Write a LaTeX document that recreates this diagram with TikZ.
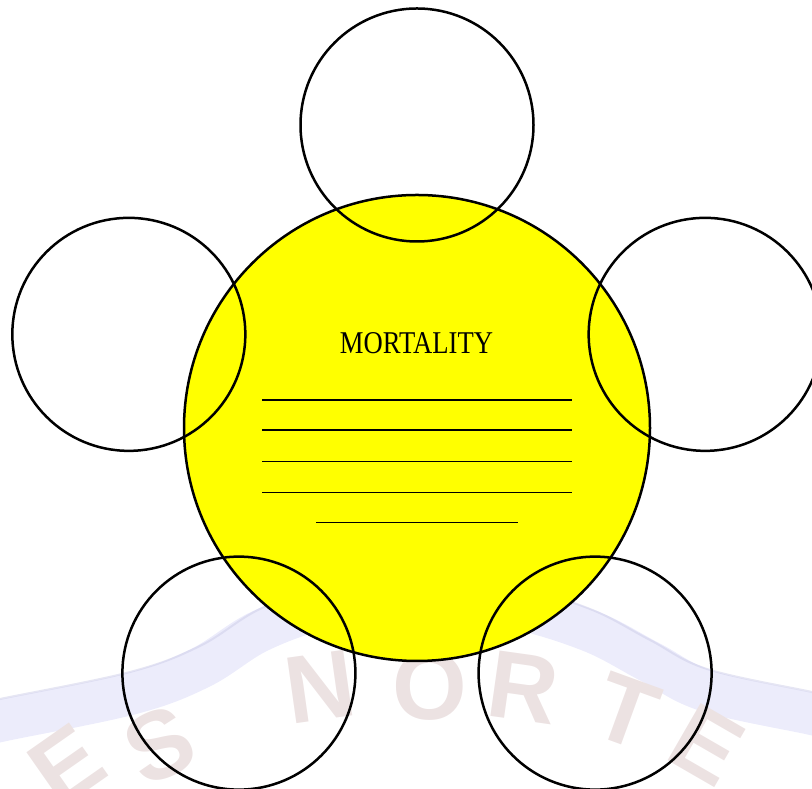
\documentclass[tikz,border=0pt]{standalone}
\usepackage{fontspec}
\setmainfont{Liberation Serif}
\newfontfamily\wmfont{Liberation Sans}
\usetikzlibrary{calc}
\definecolor{hubyellow}{RGB}{255,255,0}
\definecolor{wmband}{RGB}{228,228,250}
\definecolor{wmedge}{RGB}{205,205,232}
\definecolor{wmtext}{RGB}{236,226,226}
\begin{document}
\begin{tikzpicture}[x=1pt,y=1pt,
  ring/.style={circle, draw=black, line width=2.5pt, minimum size=233pt, inner sep=0pt},
  hub/.style={circle, draw=black, fill=hubyellow, line width=2.5pt, minimum size=466pt, inner sep=0pt},
  blank/.style={line width=1.8pt, black},
  wmletter/.style={font=\wmfont\bfseries\fontsize{96}{96}\selectfont, text=wmtext, inner sep=0pt}
]
\useasboundingbox (0,0) rectangle (812,789);
% faint watermark in the background
\begin{scope}
\clip (0,0) rectangle (812,789);
\draw[wmband, line width=42pt, opacity=0.7, line join=round]
  plot[smooth, tension=0.6] coordinates {(-20,62) (0,68) (130,95) (200,121) (260,158) (330,182) (420,192) (510,182) (590,158) (650,127) (707,98) (812,75) (832,70)};
\draw[wmedge, line width=2pt, opacity=0.5]
  plot[smooth, tension=0.6] coordinates {(-20,85) (0,90) (130,117) (200,143) (260,180) (330,204) (420,214) (510,204) (590,180) (650,149) (707,120) (812,97) (832,92)};
\node[wmletter, rotate=35] (wE1) at (67,24) {E};
\node[wmletter, rotate=25] (wS) at (160,44) {S};
\node[wmletter, rotate=8] (wN) at (320,102) {N};
\node[wmletter] (wO) at (430,103) {O};
\node[wmletter, rotate=-8] (wR) at (523,101) {R};
\node[wmletter, rotate=-20] (wT) at (626,77) {T};
\node[wmletter, rotate=-30] (wE2) at (707,44) {E};
\end{scope}
% central hub
\node[hub] (hub) at (417,361) {};
% surrounding circles
\node[ring] (top) at ($(hub.center)+(90:303)$) {};
\node[ring] (left) at ($(hub.center)+(162:303)$) {};
\node[ring] (botleft) at ($(hub.center)+(234:303)$) {};
\node[ring] (botright) at ($(hub.center)+(306:303)$) {};
\node[ring] (right) at ($(hub.center)+(18:303)$) {};
% title and blank lines
\node[font=\fontsize{31.7}{32}\selectfont, anchor=base, inner sep=0pt] (title) at (416.5,435) {\scalebox{0.84}[1]{MORTALITY}};
\coordinate (l1a) at (262,389); \coordinate (l1b) at (572,389);
\coordinate (l2a) at (262,359); \coordinate (l2b) at (572,359);
\coordinate (l3a) at (262,327.5); \coordinate (l3b) at (572,327.5);
\coordinate (l4a) at (262,296.5); \coordinate (l4b) at (572,296.5);
\coordinate (l5a) at (316,266.5); \coordinate (l5b) at (518,266.5);
\draw[blank] (l1a) -- (l1b);
\draw[blank] (l2a) -- (l2b);
\draw[blank] (l3a) -- (l3b);
\draw[blank] (l4a) -- (l4b);
\draw[blank] (l5a) -- (l5b);
\end{tikzpicture}
\end{document}
